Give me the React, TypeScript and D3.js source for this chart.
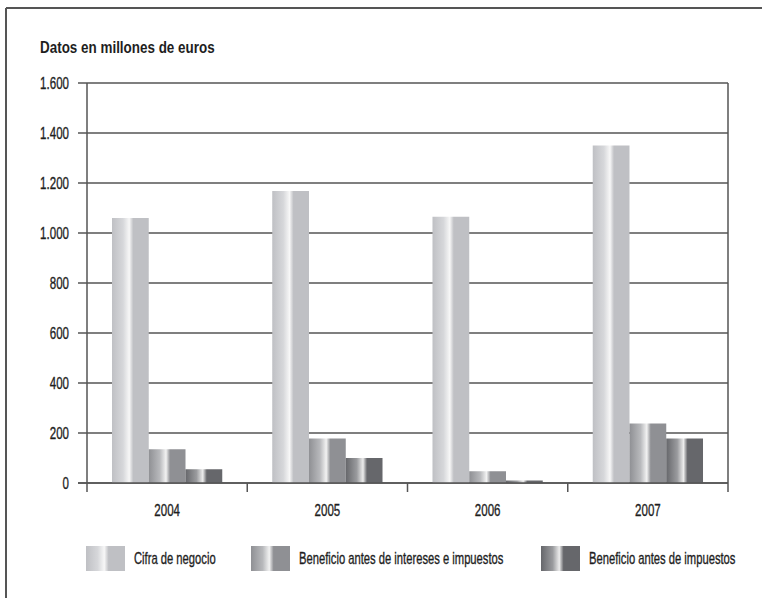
import React from "react";
import * as d3 from "d3";

const years = ["2004", "2005", "2006", "2007"];
const seriesNames = [
  "Cifra de negocio",
  "Beneficio antes de intereses e impuestos",
  "Beneficio antes de impuestos",
];
const cifraNegocio = [1060, 1168, 1065, 1350];
const baii = [135, 178, 47, 238];
const bai = [55, 100, 10, 178];
const yTicks = [0, 200, 400, 600, 800, 1000, 1200, 1400, 1600];
const titleText = "Datos en millones de euros";

const W = 762;
const H = 598;
const FONT = "'Liberation Sans', Arial, sans-serif";
const SX = 0.68;

const gradients = [
  { id: "g0", edge: "#bfc0c4", mid: "#d6d7da", hi: "#f7f7f7" },
  { id: "g1", edge: "#8f9094", mid: "#b8b9bc", hi: "#f2f2f2" },
  { id: "g2", edge: "#66676b", mid: "#9a9b9e", hi: "#ececec" },
];

function CText(props: {
  x: number;
  y: number;
  anchor?: "start" | "middle" | "end";
  bold?: boolean;
  size?: number;
  sx?: number;
  children: React.ReactNode;
}) {
  const { x, y, anchor = "start", bold, size = 17, sx = SX, children } = props;
  return (
    <text
      transform={`translate(${x},${y}) scale(${sx},1)`}
      dy="0.35em"
      textAnchor={anchor}
      fontFamily={FONT}
      fontSize={size}
      fontWeight={bold ? "bold" : "normal"}
      fill="#1e1e1e"
      stroke="#1e1e1e"
      strokeWidth={bold ? 0 : 0.35}
    >
      {children}
    </text>
  );
}

export default function App() {
  const left = 87;
  const right = 728;
  const top = 83;
  const bottom = 483;
  const values = [cifraNegocio, baii, bai];

  const x0 = d3.scaleBand<string>().domain(years).range([left, right]).paddingInner(0).paddingOuter(0);
  const x1 = d3
    .scaleBand<number>()
    .domain([0, 1, 2])
    .range([0, x0.bandwidth()])
    .paddingInner(0)
    .paddingOuter(0.68);
  const y = d3.scaleLinear().domain([0, 1600]).range([bottom, top]);

  const fmt = (v: number) => d3.format(",")(v).replace(/,/g, ".");

  const legendX = [86, 251, 541];

  return (
    <svg width={W} height={H} style={{ position: "absolute", left: 0, top: 0, background: "#fff" }}>
      <defs>
        {gradients.map((g) => (
          <linearGradient key={g.id} id={g.id} x1="0" x2="1" y1="0" y2="0">
            <stop offset="0%" stopColor={g.edge} />
            <stop offset="30%" stopColor={g.mid} />
            <stop offset="47%" stopColor={g.hi} />
            <stop offset="58%" stopColor={g.edge} />
            <stop offset="100%" stopColor={g.edge} />
          </linearGradient>
        ))}
      </defs>
      <rect x={0} y={0} width={W} height={H} fill="#fff" />
      {/* frame */}
      <line x1={6} x2={W} y1={8} y2={8} stroke="#555" strokeWidth={2} />
      <line x1={6} x2={6} y1={8} y2={H} stroke="#555" strokeWidth={2} />

      <CText x={40} y={47} bold size={16} sx={0.84}>
        {titleText}
      </CText>

      {/* grid lines and y ticks */}
      {yTicks.map((t) => (
        <g key={t}>
          <line x1={78} x2={right} y1={y(t)} y2={y(t)} stroke="#555" strokeWidth={1.5} />
          <CText x={69} y={y(t)} anchor="end">
            {fmt(t)}
          </CText>
        </g>
      ))}
      {/* y axis and right border */}
      <line x1={left} x2={left} y1={top} y2={492} stroke="#555" strokeWidth={1.5} />
      <line x1={right} x2={right} y1={top} y2={492} stroke="#555" strokeWidth={1.5} />
      {/* x category separators */}
      {years.slice(1).map((yr) => (
        <line
          key={yr}
          x1={x0(yr)!}
          x2={x0(yr)!}
          y1={bottom}
          y2={492}
          stroke="#555"
          strokeWidth={1.5}
        />
      ))}

      {/* bars */}
      {years.map((yr, i) => (
        <g key={yr}>
          {values.map((arr, s) => (
            <rect
              key={s}
              x={x0(yr)! + x1(s)!}
              y={y(arr[i])}
              width={x1.bandwidth()}
              height={bottom - y(arr[i])}
              fill={`url(#g${s})`}
            />
          ))}
          <CText x={x0(yr)! + x0.bandwidth() / 2} y={510} anchor="middle">
            {yr}
          </CText>
        </g>
      ))}
      {/* zero line on top */}
      <line x1={78} x2={right} y1={bottom} y2={bottom} stroke="#555" strokeWidth={1.5} />

      {/* legend */}
      {seriesNames.map((name, s) => (
        <g key={name}>
          <rect x={legendX[s]} y={546} width={39} height={25} fill={`url(#g${s})`} />
          <CText x={legendX[s] + 48} y={558.5} sx={0.66}>
            {name}
          </CText>
        </g>
      ))}
    </svg>
  );
}
